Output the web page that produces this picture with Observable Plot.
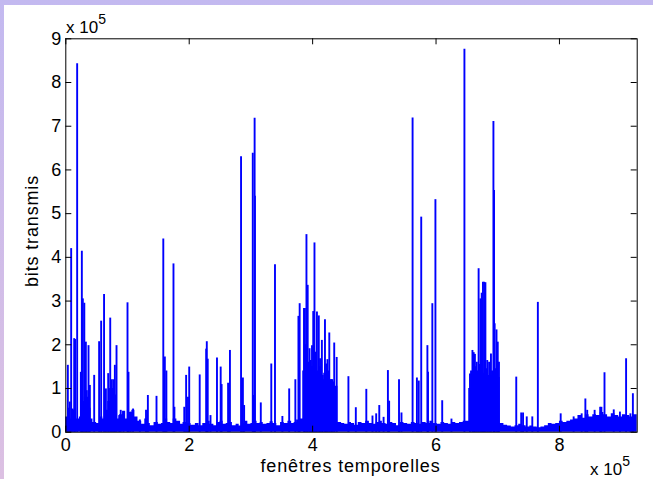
<!DOCTYPE html>
<html>
<head>
<meta charset="utf-8">
<script src="https://cdn.jsdelivr.net/npm/d3@7"></script>
<script src="https://cdn.jsdelivr.net/npm/@observablehq/plot@0.6"></script>
<style>
  html, body { margin: 0; padding: 0; }
  body { width: 653px; height: 479px; position: relative; overflow: hidden;
         background: linear-gradient(to bottom, #c3b9f0, #dcc0e2); }
  #panel { position: absolute; left: 4px; top: 5px; right: 0; bottom: 0; background: #ffffff; }
  #chart { position: absolute; left: 0; top: 0; }
  #chart svg { background: transparent; overflow: visible; }
</style>
</head>
<body>
<div id="panel"></div>
<div id="chart"></div>
<script>
// ---- data (units of 1e5) ----
const xTickValues = [0, 2, 4, 6, 8];
const yTickValues = [0, 1, 2, 3, 4, 5, 6, 7, 8, 9];
const xMax = 9.26;
const yMax = 9;
const UNIT = 1e5;

// noisy floor / dense bursts: [window index, bits]
const floorPairs = [[0.00,0.35],[0.04,0.55],[0.08,0.3],[0.12,0.5],[0.17,0.3],[0.22,0.35],[0.24,0.8],[0.29,0.7],[0.33,0.8],[0.37,0.55],[0.41,0.3],[0.44,0.22],[0.5,0.2],[0.55,0.35],[0.6,0.3],[0.64,0.5],[0.68,0.7],[0.71,1.0],[0.79,0.85],[0.83,0.3],[0.87,0.4],[0.92,0.48],[0.97,0.3],[1.02,0.45],[1.07,0.5],[1.12,0.35],[1.17,0.25],[1.23,0.18],[1.28,0.3],[1.32,0.2],[1.37,0.15],[1.43,0.22],[1.5,0.18],[1.55,0.2],[1.6,0.3],[1.65,0.22],[1.7,0.2],[1.74,0.3],[1.8,0.25],[1.86,0.18],[1.9,0.22],[1.96,0.2],[2.03,0.16],[2.1,0.2],[2.16,0.15],[2.22,0.2],[2.28,0.25],[2.34,0.18],[2.4,0.15],[2.45,0.22],[2.5,0.25],[2.55,0.18],[2.6,0.2],[2.66,0.22],[2.7,0.15],[2.76,0.18],[2.81,0.14],[2.86,0.2],[2.9,0.25],[2.95,0.18],[3.0,0.2],[3.05,0.25],[3.1,0.2],[3.15,0.22],[3.2,0.18],[3.26,0.2],[3.31,0.24],[3.36,0.2],[3.42,0.15],[3.48,0.22],[3.54,0.2],[3.6,0.25],[3.66,0.2],[3.7,0.22],[3.74,0.28],[3.8,0.3],[3.84,1.4],[3.88,2.0],[3.93,1.6],[3.97,1.5],[4.02,1.6],[4.06,1.4],[4.1,1.5],[4.14,1.2],[4.18,1.35],[4.23,1.4],[4.28,1.2],[4.33,1.15],[4.37,1.05],[4.41,0.22],[4.47,0.2],[4.52,0.18],[4.58,0.22],[4.63,0.2],[4.68,0.16],[4.74,0.22],[4.8,0.2],[4.86,0.25],[4.92,0.2],[4.97,0.18],[5.03,0.22],[5.08,0.25],[5.13,0.2],[5.19,0.18],[5.25,0.22],[5.3,0.2],[5.36,0.15],[5.42,0.22],[5.48,0.2],[5.54,0.18],[5.6,0.22],[5.66,0.2],[5.72,0.18],[5.78,0.22],[5.84,0.2],[5.9,0.25],[5.96,0.2],[6.02,0.18],[6.08,0.22],[6.14,0.2],[6.2,0.18],[6.26,0.22],[6.32,0.2],[6.38,0.22],[6.44,0.25],[6.53,1.0],[6.56,1.4],[6.61,1.5],[6.66,1.4],[6.7,1.55],[6.75,1.35],[6.8,1.45],[6.85,1.3],[6.9,1.4],[6.95,1.45],[7.0,1.25],[7.04,0.2],[7.1,0.16],[7.16,0.14],[7.22,0.12],[7.28,0.15],[7.34,0.18],[7.4,0.15],[7.46,0.12],[7.52,0.14],[7.58,0.12],[7.64,0.1],[7.7,0.12],[7.76,0.15],[7.82,0.2],[7.88,0.18],[7.94,0.2],[8.0,0.25],[8.06,0.22],[8.12,0.25],[8.18,0.28],[8.24,0.3],[8.3,0.38],[8.36,0.32],[8.42,0.4],[8.48,0.35],[8.54,0.4],[8.6,0.38],[8.66,0.45],[8.72,0.4],[8.78,0.35],[8.84,0.42],[8.9,0.38],[8.96,0.35],[9.02,0.4],[9.08,0.38],[9.14,0.35],[9.2,0.4],[9.26,0.4]];

// isolated peaks: window index and height
const spikeX = [0.033,0.065,0.087,0.11,0.136,0.15,0.184,0.244,0.26,0.276,0.30,0.325,0.34,0.368,0.39,0.46,0.54,0.573,0.62,0.65,0.687,0.72,0.746,0.773,0.795,0.822,0.865,0.89,0.935,1.0,1.016,1.05,1.09,1.2,1.3,1.33,1.47,1.58,1.605,1.63,1.745,1.76,1.92,1.95,1.98,2.0,2.17,2.275,2.285,2.3,2.345,2.45,2.51,2.525,2.63,2.66,2.84,2.87,2.89,3.03,3.045,3.06,3.065,3.16,3.33,3.39,3.51,3.62,3.72,3.77,3.79,3.86,3.875,3.90,3.92,3.95,3.97,3.99,4.01,4.03,4.05,4.07,4.10,4.12,4.15,4.165,4.20,4.22,4.24,4.27,4.30,4.32,4.35,4.39,4.58,4.70,4.87,4.97,5.03,5.08,5.15,5.22,5.24,5.40,5.44,5.62,5.69,5.72,5.76,5.86,5.87,5.94,5.99,6.10,6.25,6.46,6.55,6.59,6.61,6.63,6.66,6.69,6.72,6.74,6.76,6.78,6.80,6.83,6.86,6.89,6.93,6.94,6.95,6.98,7.0,7.02,7.30,7.38,7.41,7.47,7.56,7.65,8.02,8.23,8.36,8.42,8.45,8.57,8.66,8.68,8.73,8.88,8.98,9.08,9.15,9.19];
const spikeY = [1.53,0.69,4.2,0.53,2.14,2.12,8.43,1.37,4.14,3.05,2.95,2.06,0.95,1.98,1.07,1.3,2.07,2.54,3.15,0.99,1.34,2.61,1.2,1.2,1.53,1.98,0.38,0.5,0.46,2.96,1.37,0.46,0.53,0.28,0.5,0.84,0.82,4.42,1.72,1.4,3.85,0.57,0.57,1.3,0.8,1.49,1.31,1.9,2.07,1.67,0.38,1.7,1.49,1.09,1.12,1.87,6.3,1.24,0.61,6.38,0.84,7.18,5.4,0.67,1.56,3.83,0.36,0.99,1.2,2.65,2.94,2.83,2.83,4.52,3.36,1.91,1.64,1.98,2.76,4.33,1.83,2.75,2.66,1.68,2.1,1.3,2.57,1.56,1.66,2.27,1.2,1.2,2.04,1.71,1.27,0.56,0.98,0.37,0.42,0.61,0.34,1.41,0.71,1.2,0.44,7.19,1.24,1.17,4.92,1.98,1.37,2.94,5.32,0.72,0.3,8.76,1.33,1.87,1.82,1.78,1.6,3.74,3.05,3.18,3.43,3.43,3.42,1.64,1.6,1.79,7.11,5.53,2.48,2.34,2.06,1.6,1.26,0.44,0.44,0.35,0.35,2.97,0.42,0.35,0.42,0.76,0.5,0.5,0.57,0.57,1.36,0.51,0.46,1.68,0.42,0.88];

// ---- tables for the library ----
const floorData = floorPairs.map(([x, y]) => ({x: x * UNIT, y: y * UNIT}));
const spikes = spikeX.map((x, i) => ({x: x * UNIT, y: spikeY[i] * UNIT}));
const xTicks = xTickValues.map(d => d * UNIT);
const yTicks = yTickValues.map(d => d * UNIT);

const W = 653, H = 479;
const mL = 65.3, mT = 38.3, mR = 16.3, mB = 47.3;
const plotW = W - mL - mR, plotH = H - mT - mB;
const TICK = 6;
const BLUE = "#0000ff";
const FONT = "'Liberation Sans', Arial, Helvetica, sans-serif";

const chart = Plot.plot({
  width: W, height: H,
  marginLeft: mL, marginTop: mT, marginRight: mR, marginBottom: mB,
  style: {background: "transparent", fontFamily: FONT, fontSize: "18px", color: "black"},
  x: {domain: [0, xMax * UNIT]},
  y: {domain: [0, yMax * UNIT]},
  marks: [
    Plot.areaY(floorData, {x: "x", y: "y", curve: "step-after", fill: BLUE}),
    Plot.ruleX(spikes, {x: "x", y1: 0, y2: "y", stroke: BLUE, strokeWidth: 1.9}),
    Plot.frame({stroke: "black", strokeWidth: 1}),
    Plot.ruleX(xTicks, {x: d => d, insetTop: plotH - TICK, stroke: "black"}),
    Plot.ruleX(xTicks, {x: d => d, insetBottom: plotH - TICK, stroke: "black"}),
    Plot.ruleY(yTicks, {y: d => d, insetRight: plotW - TICK, stroke: "black"}),
    Plot.ruleY(yTicks, {y: d => d, insetLeft: plotW - TICK, stroke: "black"}),
    Plot.axisX({ticks: xTicks, tickSize: 0, tickPadding: 6.5, tickFormat: d => d / UNIT, label: null}),
    Plot.axisY({ticks: yTicks, tickSize: 0, tickPadding: 4.6, tickFormat: d => d / UNIT, label: null})
  ]
});
document.getElementById("chart").appendChild(chart);

const svg = d3.select(chart);
const g = svg.append("g").attr("font-family", FONT).attr("fill", "black");

function multiplier(x, y) {
  const t = g.append("text").attr("x", x).attr("y", y)
    .attr("text-anchor", "start").attr("font-size", 17);
  t.append("tspan").text("x 10");
  t.append("tspan").attr("font-size", 14).attr("dy", -9).text("5");
}
multiplier(66, 33);
multiplier(590, 475);

g.append("text")
  .attr("text-anchor", "middle").attr("font-size", 18).attr("letter-spacing", 0.85)
  .attr("transform", "translate(38.3,231) rotate(-90)")
  .text("bits transmis");

g.append("text")
  .attr("text-anchor", "middle").attr("font-size", 18).attr("letter-spacing", 0.85)
  .attr("x", 350.5).attr("y", 472)
  .text("fenêtres temporelles");
</script>
</body>
</html>
